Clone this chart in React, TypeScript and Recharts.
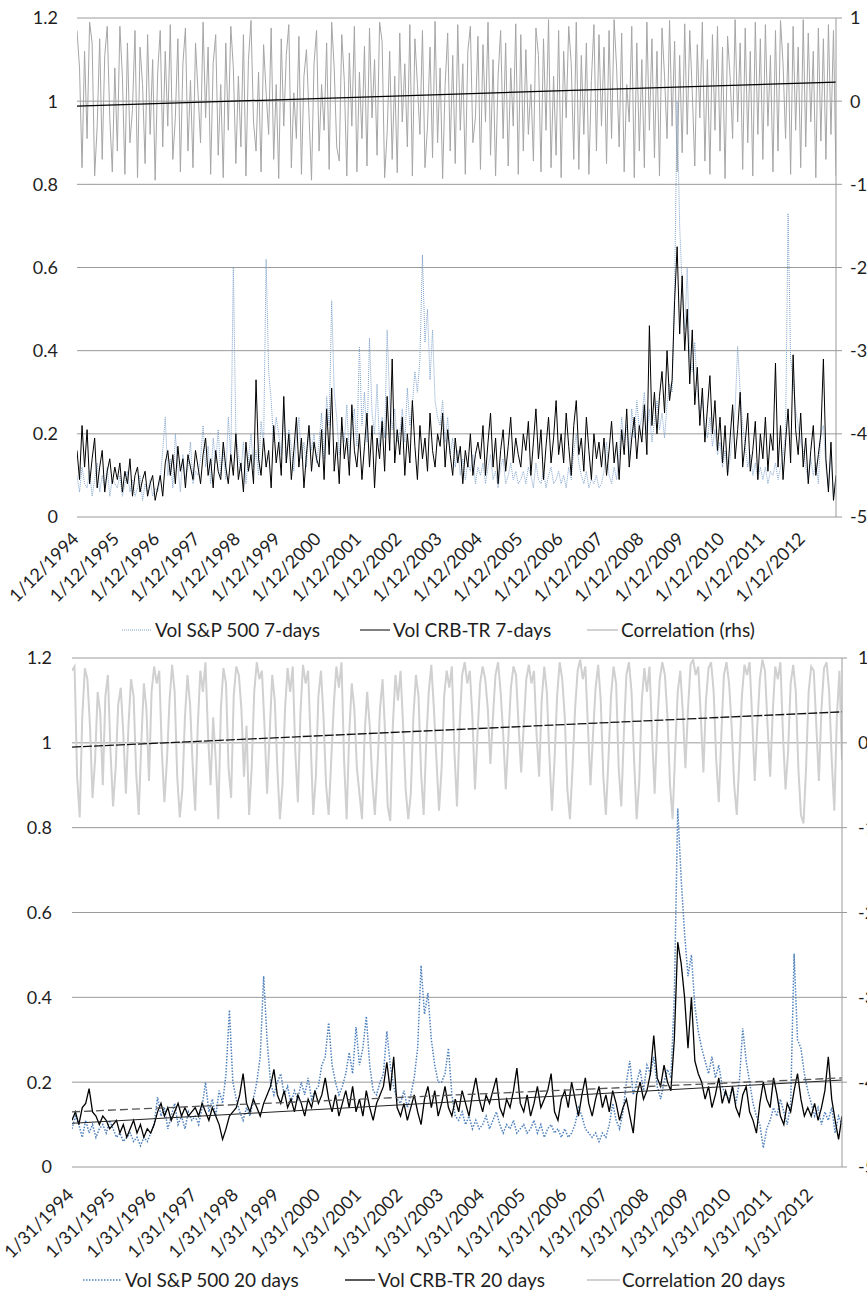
import React from 'react';
import { ComposedChart, Line, XAxis, YAxis, CartesianGrid } from 'recharts';

const FONT = "Lato, 'Open Sans', 'DejaVu Sans', sans-serif";

const tickYears = [1994, 1995, 1996, 1997, 1998, 1999, 2000, 2001, 2002, 2003, 2004, 2005, 2006, 2007, 2008, 2009, 2010, 2011, 2012];
const tickLabels7 = ['1/12/1994', '1/12/1995', '1/12/1996', '1/12/1997', '1/12/1998', '1/12/1999', '1/12/2000', '1/12/2001', '1/12/2002', '1/12/2003', '1/12/2004', '1/12/2005', '1/12/2006', '1/12/2007', '1/12/2008', '1/12/2009', '1/12/2010', '1/12/2011', '1/12/2012'];
const tickLabels20 = ['1/31/1994', '1/31/1995', '1/31/1996', '1/31/1997', '1/31/1998', '1/31/1999', '1/31/2000', '1/31/2001', '1/31/2002', '1/31/2003', '1/31/2004', '1/31/2005', '1/31/2006', '1/31/2007', '1/31/2008', '1/31/2009', '1/31/2010', '1/31/2011', '1/31/2012'];
const leftTicks = [0, 0.2, 0.4, 0.6, 0.8, 1, 1.2];
const rightTicks = [-5, -4, -3, -2, -1, 0, 1];

const legend7 = ['Vol S&P 500 7-days', 'Vol CRB-TR 7-days', 'Correlation (rhs)'];
const legend20 = ['Vol S&P 500 20 days', 'Vol CRB-TR 20 days', 'Correlation 20 days'];

// ---- 7-day series (16 samples per year from Jan 1994) ----
const volSP7 = [
  0.10, 0.06, 0.12, 0.08, 0.07, 0.11, 0.05, 0.09, 0.13, 0.06, 0.10, 0.07, 0.12, 0.05, 0.09, 0.08,
  0.07, 0.10, 0.05, 0.08, 0.11, 0.06, 0.09, 0.05, 0.07, 0.10, 0.04, 0.08, 0.06, 0.09, 0.05, 0.07,
  0.06, 0.09, 0.16, 0.24, 0.10, 0.14, 0.07, 0.20, 0.12, 0.06, 0.15, 0.09, 0.12, 0.18, 0.08, 0.11,
  0.10, 0.14, 0.22, 0.12, 0.17, 0.08, 0.19, 0.13, 0.21, 0.10, 0.16, 0.09, 0.24, 0.14, 0.60, 0.20,
  0.15, 0.11, 0.18, 0.08, 0.14, 0.20, 0.12, 0.16, 0.10, 0.23, 0.17, 0.62, 0.35, 0.28, 0.18, 0.24,
  0.20, 0.15, 0.26, 0.13, 0.21, 0.17, 0.11, 0.19, 0.24, 0.14, 0.18, 0.12, 0.22, 0.16, 0.20, 0.13,
  0.18, 0.25, 0.14, 0.29, 0.22, 0.52, 0.30, 0.24, 0.15, 0.22, 0.18, 0.27, 0.14, 0.21, 0.26, 0.17,
  0.41, 0.22, 0.30, 0.18, 0.43, 0.25, 0.20, 0.32, 0.17, 0.24, 0.19, 0.45, 0.28, 0.21, 0.26, 0.18,
  0.20, 0.26, 0.18, 0.31, 0.22, 0.27, 0.35, 0.30, 0.38, 0.63, 0.42, 0.50, 0.33, 0.45, 0.28, 0.24,
  0.22, 0.28, 0.18, 0.24, 0.15, 0.19, 0.12, 0.16, 0.10, 0.14, 0.09, 0.13, 0.11, 0.15, 0.08, 0.12,
  0.10, 0.13, 0.08, 0.12, 0.15, 0.09, 0.11, 0.07, 0.12, 0.14, 0.08, 0.10, 0.13, 0.09, 0.11, 0.08,
  0.09, 0.11, 0.08, 0.12, 0.10, 0.07, 0.13, 0.09, 0.08, 0.11, 0.07, 0.10, 0.12, 0.08, 0.09, 0.11,
  0.08, 0.10, 0.07, 0.12, 0.09, 0.16, 0.20, 0.13, 0.10, 0.08, 0.11, 0.07, 0.09, 0.08, 0.10, 0.07,
  0.08, 0.11, 0.18, 0.10, 0.08, 0.12, 0.09, 0.15, 0.24, 0.18, 0.22, 0.14, 0.26, 0.19, 0.28, 0.21,
  0.24, 0.30, 0.20, 0.26, 0.18, 0.23, 0.28, 0.21, 0.25, 0.19, 0.27, 0.32, 0.30, 0.55, 1.00, 0.70,
  0.55, 0.45, 0.60, 0.38, 0.35, 0.42, 0.30, 0.25, 0.28, 0.22, 0.19, 0.24, 0.17, 0.21, 0.15, 0.18,
  0.12, 0.16, 0.10, 0.14, 0.20, 0.26, 0.41, 0.30, 0.22, 0.17, 0.12, 0.15, 0.10, 0.13, 0.09, 0.12,
  0.09, 0.12, 0.08, 0.11, 0.10, 0.13, 0.09, 0.12, 0.15, 0.20, 0.73, 0.38, 0.33, 0.26, 0.22, 0.18,
  0.16, 0.12, 0.09, 0.14, 0.10, 0.13, 0.08, 0.20, 0.22, 0.12, 0.07, 0.15, 0.05, 0.09,
];

const volCRB7 = [
  0.16, 0.09, 0.22, 0.12, 0.21, 0.08, 0.14, 0.19, 0.07, 0.12, 0.16, 0.06, 0.11, 0.14, 0.08, 0.12,
  0.09, 0.13, 0.06, 0.11, 0.08, 0.14, 0.05, 0.10, 0.12, 0.06, 0.09, 0.11, 0.05, 0.08, 0.10, 0.04,
  0.07, 0.10, 0.05, 0.13, 0.16, 0.10, 0.15, 0.08, 0.17, 0.11, 0.14, 0.07, 0.15, 0.12, 0.09, 0.16,
  0.12, 0.08, 0.15, 0.19, 0.10, 0.14, 0.07, 0.16, 0.11, 0.09, 0.18, 0.12, 0.08, 0.15, 0.10, 0.20,
  0.09, 0.13, 0.06, 0.18, 0.11, 0.15, 0.08, 0.33, 0.14, 0.10, 0.19, 0.12, 0.16, 0.07, 0.22, 0.13,
  0.18, 0.10, 0.29, 0.13, 0.20, 0.09, 0.16, 0.24, 0.12, 0.19, 0.07, 0.15, 0.22, 0.11, 0.18, 0.14,
  0.12, 0.21, 0.09, 0.26, 0.15, 0.31, 0.11, 0.18, 0.08, 0.24, 0.14, 0.19, 0.10, 0.27, 0.16, 0.12,
  0.20, 0.09, 0.17, 0.25, 0.12, 0.22, 0.07, 0.19, 0.14, 0.23, 0.11, 0.29, 0.16, 0.38, 0.13, 0.21,
  0.15, 0.24, 0.10, 0.20, 0.13, 0.28, 0.17, 0.09, 0.22, 0.14, 0.19, 0.11, 0.25, 0.16, 0.12, 0.20,
  0.17, 0.25, 0.12, 0.21, 0.15, 0.10, 0.19, 0.13, 0.17, 0.08, 0.16, 0.12, 0.20, 0.10, 0.15, 0.18,
  0.14, 0.22, 0.10, 0.18, 0.25, 0.12, 0.19, 0.08, 0.16, 0.21, 0.11, 0.17, 0.24, 0.13, 0.19, 0.15,
  0.12, 0.20, 0.16, 0.23, 0.10, 0.18, 0.26, 0.14, 0.21, 0.09, 0.17, 0.24, 0.13, 0.19, 0.28, 0.15,
  0.20, 0.13, 0.25, 0.17, 0.10, 0.22, 0.28, 0.15, 0.19, 0.11, 0.24, 0.16, 0.09, 0.20, 0.14, 0.18,
  0.12, 0.19, 0.10, 0.16, 0.23, 0.13, 0.18, 0.09, 0.21, 0.15, 0.26, 0.12, 0.19, 0.24, 0.14, 0.22,
  0.18, 0.27, 0.15, 0.46, 0.22, 0.30, 0.20, 0.29, 0.35, 0.25, 0.40, 0.28, 0.33, 0.52, 0.65, 0.44,
  0.58, 0.40, 0.50, 0.32, 0.45, 0.27, 0.36, 0.22, 0.31, 0.18, 0.26, 0.34, 0.20, 0.28, 0.16, 0.24,
  0.13, 0.22, 0.10, 0.19, 0.27, 0.14, 0.21, 0.30, 0.12, 0.18, 0.25, 0.11, 0.16, 0.23, 0.09, 0.20,
  0.14, 0.24, 0.11, 0.20, 0.16, 0.37, 0.12, 0.22, 0.09, 0.18, 0.26, 0.13, 0.39, 0.21, 0.15, 0.25,
  0.12, 0.19, 0.08, 0.16, 0.22, 0.10, 0.15, 0.20, 0.38, 0.14, 0.06, 0.18, 0.04, 0.10,
];

const corr7 = [
  0.85, 0.40, -0.80, 0.60, -0.45, 0.95, 0.70, -0.90, -0.30, 0.75, -0.70, 0.55, 0.90, -0.20, -0.85, 0.40,
  -0.60, 0.90, 0.30, -0.88, 0.70, -0.50, -0.10, 0.85, -0.92, 0.65, 0.20, -0.75, 0.80, -0.40, 0.50, -0.95,
  0.35, 0.85, -0.55, 0.60, -0.30, 0.92, -0.70, -0.20, 0.75, -0.85, 0.45, 0.88, -0.60, 0.25, -0.80, 0.70,
  0.10, -0.50, 0.95, -0.20, 0.65, -0.88, 0.45, 0.80, -0.65, 0.20, -0.92, 0.70, -0.35, 0.90, 0.40, -0.75,
  0.30, -0.55, 0.80, -0.90, 0.50, 0.97, -0.25, -0.60, 0.35, -0.85, 0.68, 0.10, -0.40, 0.88, -0.70, 0.20,
  -0.93, 0.75, -0.30, 0.55, 0.92, -0.80, 0.10, -0.45, 0.78, -0.88, 0.30, 0.62, -0.15, -0.95, 0.45, 0.85,
  -0.60, 0.20, -0.35, 0.70, -0.82, 0.95, 0.40, -0.55, -0.72, 0.80, 0.25, -0.90, 0.58, -0.30, 0.90, -0.85,
  0.35, -0.45, 0.66, -0.78, 0.88, -0.20, 0.50, -0.65, 0.95, 0.72, -0.92, -0.38, 0.60, -0.70, 0.30, -0.86,
  0.82, -0.25, 0.45, -0.55, 0.92, -0.90, 0.75, 0.20, -0.40, 0.85, -0.80, -0.30, 0.65, -0.68, 0.96, -0.50,
  0.40, -0.93, 0.20, 0.82, -0.60, 0.55, -0.75, 0.92, -0.35, 0.45, -0.88, 0.60, 0.90, -0.50, -0.20, 0.78,
  -0.82, 0.68, -0.25, 0.95, -0.65, 0.50, -0.90, 0.30, 0.85, -0.45, 0.70, -0.78, 0.40, -0.30, 0.93, -0.88,
  0.80, -0.60, 0.62, -0.40, 0.20, -0.72, 0.88, 0.55, -0.85, 0.75, -0.35, 0.98, -0.80, 0.30, -0.65, 0.85,
  -0.92, 0.60, -0.20, 0.90, 0.45, -0.70, 0.95, -0.82, 0.55, -0.40, 0.70, -0.88, 0.25, 0.92, -0.60, 0.80,
  -0.30, 0.65, -0.75, 0.85, -0.45, 0.98, 0.40, -0.55, 0.82, -0.85, 0.20, -0.25, 0.90, -0.92, 0.70, -0.60,
  0.50, -0.80, 0.95, -0.35, 0.75, -0.68, 0.60, -0.90, 0.88, 0.30, -0.45, 0.97, -0.30, 0.72, -0.85, 0.55,
  -0.62, 0.93, -0.40, 0.85, 0.10, -0.78, 0.68, -0.20, 0.95, -0.72, 0.50, -0.88, 0.80, -0.35, 0.90, -0.60,
  0.65, -0.93, 0.78, 0.30, -0.45, 0.98, -0.25, 0.70, -0.82, 0.88, -0.50, 0.60, -0.90, 0.95, -0.40, 0.75,
  -0.70, 0.92, -0.30, 0.55, -0.85, 0.85, -0.60, 0.97, 0.45, -0.45, 0.70, -0.88, 0.90, -0.35, 0.65, -0.80,
  0.98, -0.55, 0.82, -0.25, 0.60, -0.92, 0.88, -0.48, 0.75, -0.70, 0.92, -0.40, 0.85, -0.90,
];
const corr7Trend = [-0.06, 0.23];

// ---- 20-day series: vols 12 per year, correlation 16 per year ----
const volSP20 = [
  0.09, 0.12, 0.10, 0.07, 0.11, 0.08, 0.10, 0.07, 0.09, 0.10, 0.08, 0.11,
  0.09, 0.07, 0.08, 0.06, 0.07, 0.08, 0.06, 0.07, 0.05, 0.07, 0.06, 0.08,
  0.10, 0.165, 0.12, 0.14, 0.09, 0.12, 0.15, 0.10, 0.12, 0.09, 0.13, 0.11,
  0.12, 0.10, 0.14, 0.20, 0.13, 0.16, 0.12, 0.18, 0.15, 0.22, 0.37, 0.20,
  0.16, 0.13, 0.11, 0.14, 0.12, 0.16, 0.20, 0.26, 0.45, 0.30, 0.20, 0.17,
  0.20, 0.22, 0.17, 0.19, 0.15, 0.18, 0.16, 0.20, 0.17, 0.21, 0.16, 0.18,
  0.19, 0.24, 0.26, 0.34, 0.24, 0.20, 0.17, 0.19, 0.22, 0.27, 0.22, 0.33,
  0.24, 0.28, 0.355, 0.24, 0.18, 0.17, 0.20, 0.22, 0.32, 0.24, 0.19, 0.16,
  0.15, 0.18, 0.14, 0.17, 0.21, 0.28, 0.475, 0.36, 0.41, 0.30, 0.24, 0.20,
  0.20, 0.22, 0.28, 0.17, 0.12, 0.11, 0.13, 0.10, 0.12, 0.09, 0.11, 0.09,
  0.10, 0.12, 0.09, 0.11, 0.13, 0.10, 0.08, 0.10, 0.09, 0.11, 0.08, 0.09,
  0.10, 0.08, 0.09, 0.11, 0.08, 0.10, 0.07, 0.09, 0.10, 0.08, 0.09, 0.07,
  0.09, 0.07, 0.08, 0.10, 0.14, 0.12, 0.09, 0.08, 0.07, 0.08, 0.06, 0.08,
  0.07, 0.10, 0.15, 0.11, 0.09, 0.13, 0.20, 0.25, 0.17, 0.20, 0.23, 0.18,
  0.24, 0.22, 0.26, 0.19, 0.16, 0.20, 0.23, 0.21, 0.40, 0.845, 0.68, 0.55,
  0.45, 0.50, 0.38, 0.32, 0.28, 0.25, 0.22, 0.26, 0.21, 0.24, 0.19, 0.17,
  0.16, 0.19, 0.15, 0.20, 0.327, 0.25, 0.20, 0.15, 0.12, 0.10, 0.045, 0.09,
  0.11, 0.14, 0.12, 0.16, 0.13, 0.10, 0.15, 0.503, 0.30, 0.28, 0.22, 0.18,
  0.15, 0.12, 0.14, 0.10, 0.13, 0.11, 0.14, 0.08, 0.12, 0.10,
];

const volCRB20 = [
  0.11, 0.13, 0.10, 0.14, 0.15, 0.185, 0.13, 0.12, 0.10, 0.12, 0.11, 0.09,
  0.10, 0.11, 0.08, 0.10, 0.07, 0.09, 0.11, 0.08, 0.10, 0.07, 0.09, 0.08,
  0.10, 0.13, 0.15, 0.12, 0.14, 0.11, 0.13, 0.15, 0.12, 0.14, 0.12, 0.13,
  0.14, 0.12, 0.15, 0.13, 0.11, 0.14, 0.12, 0.10, 0.065, 0.09, 0.12, 0.13,
  0.14, 0.17, 0.22, 0.15, 0.13, 0.16, 0.14, 0.12, 0.15, 0.17, 0.19, 0.23,
  0.17, 0.15, 0.18, 0.14, 0.16, 0.13, 0.17, 0.15, 0.12, 0.16, 0.14, 0.18,
  0.15, 0.17, 0.21, 0.16, 0.13, 0.17, 0.12, 0.15, 0.18, 0.14, 0.19, 0.13,
  0.16, 0.12, 0.18, 0.14, 0.11, 0.15, 0.17, 0.19, 0.247, 0.18, 0.26, 0.14,
  0.12, 0.15, 0.11, 0.14, 0.17, 0.13, 0.10, 0.16, 0.19, 0.14, 0.18, 0.12,
  0.15, 0.19, 0.14, 0.12, 0.16, 0.13, 0.18, 0.15, 0.12, 0.17, 0.21, 0.16,
  0.13, 0.17, 0.15, 0.18, 0.21, 0.14, 0.12, 0.16, 0.14, 0.18, 0.233, 0.15,
  0.13, 0.17, 0.12, 0.15, 0.19, 0.14, 0.16, 0.18, 0.22, 0.13, 0.11, 0.16,
  0.18, 0.14, 0.20, 0.16, 0.12, 0.17, 0.21, 0.15, 0.12, 0.16, 0.19, 0.14,
  0.17, 0.13, 0.18, 0.15, 0.11, 0.14, 0.16, 0.12, 0.08, 0.17, 0.20, 0.16,
  0.18, 0.22, 0.31, 0.21, 0.19, 0.24, 0.20, 0.18, 0.30, 0.53, 0.48, 0.40,
  0.28, 0.40, 0.25, 0.22, 0.20, 0.16, 0.19, 0.14, 0.17, 0.21, 0.15, 0.18,
  0.15, 0.19, 0.14, 0.12, 0.17, 0.19, 0.13, 0.11, 0.08, 0.15, 0.20, 0.16,
  0.14, 0.21, 0.17, 0.12, 0.10, 0.15, 0.13, 0.18, 0.22, 0.16, 0.12, 0.14,
  0.12, 0.15, 0.11, 0.14, 0.18, 0.26, 0.16, 0.11, 0.065, 0.12,
];

const corr20 = [
  0.85, 0.90, -0.40, -0.88, 0.30, 0.88, 0.75, 0.20, -0.65, -0.20, 0.60, 0.35, -0.50, 0.55, 0.80, -0.10,
  -0.75, -0.30, 0.45, 0.65, 0.10, -0.60, 0.20, 0.75, 0.55, -0.35, -0.85, 0.00, 0.70, 0.40, -0.45, 0.60,
  0.90, 0.70, 0.85, -0.10, -0.70, -0.20, 0.50, 0.92, 0.60, -0.40, -0.88, -0.55, 0.30, 0.80, 0.45, -0.25,
  -0.80, 0.20, 0.85, 0.60, 0.95, 0.10, -0.50, 0.30, -0.20, -0.90, 0.40, 0.88, 0.70, -0.30, -0.65, 0.55,
  0.90, 0.80, 0.40, -0.40, 0.20, -0.85, -0.30, 0.60, 0.95, 0.75, 0.85, 0.20, -0.60, 0.10, 0.80, 0.50,
  -0.30, -0.90, -0.50, 0.40, 0.88, 0.60, 0.90, -0.10, -0.70, 0.35, 0.92, 0.70, 0.85, 0.00, -0.85, -0.40,
  0.55, 0.85, 0.30, -0.50, -0.85, -0.20, 0.45, 0.90, 0.65, 0.95, -0.20, -0.90, 0.10, 0.70, 0.40, -0.30,
  -0.60, -0.90, 0.10, 0.60, 0.20, -0.45, -0.85, -0.30, 0.40, 0.75, 0.10, -0.75, -0.92, 0.20, 0.80, 0.50,
  0.85, 0.20, -0.55, -0.90, -0.60, 0.30, 0.80, 0.55, -0.35, -0.85, 0.00, 0.60, 0.92, 0.40, -0.20, -0.80,
  -0.30, 0.55, 0.85, 0.65, 0.90, -0.10, -0.75, 0.20, 0.80, 0.95, 0.70, 0.85, 0.30, -0.55, 0.10, 0.70,
  0.90, 0.75, 0.40, -0.25, 0.30, 0.80, 0.95, 0.60, 0.10, -0.55, 0.05, 0.65, 0.90, 0.80, 0.20, -0.35,
  0.20, 0.75, 0.92, 0.70, 0.85, 0.10, -0.40, 0.50, 0.90, 0.60, -0.15, -0.80, -0.20, 0.55, 0.95, 0.75,
  0.30, -0.55, -0.90, -0.30, 0.40, 0.85, 0.98, 0.75, 0.90, 0.20, -0.50, 0.10, 0.65, 0.92, 0.50, -0.40,
  -0.85, -0.20, 0.55, 0.90, 0.70, -0.30, -0.75, 0.10, 0.80, 0.95, 0.60, -0.20, -0.90, -0.45, 0.50, 0.88,
  0.60, 0.90, 0.10, -0.60, 0.20, 0.75, 0.95, 0.80, 0.30, -0.50, -0.90, -0.10, 0.60, 0.85, 0.35, -0.30,
  0.40, 0.92, 0.98, 0.80, 0.90, 0.30, -0.35, 0.50, 0.88, 0.95, 0.60, -0.20, -0.70, 0.10, 0.80, 0.95,
  0.70, 0.20, -0.50, -0.85, -0.20, 0.55, 0.92, 0.80, 0.95, 0.30, -0.45, 0.20, 0.75, 0.98, 0.85, 0.20,
  -0.40, 0.35, 0.90, 0.75, 0.95, 0.10, -0.55, -0.10, 0.70, 0.92, 0.60, -0.30, -0.85, -0.95, -0.30, 0.60,
  0.90, 0.85, 0.20, -0.45, 0.40, 0.88, 0.95, 0.60, -0.20, -0.80, 0.30, 0.85, -0.20,
];
const volSP20Trend = [0.13, 0.21];
const volCRB20Trend = [0.103, 0.205];
const corr20Trend = [-0.05, 0.365];

const START = 1994;
const toRows = (arr: number[], perYear: number) => arr.map((v, i) => ({ t: START + i / perYear, v }));
const end7 = START + (volSP7.length - 1) / 16;
const end20 = START + (volSP20.length - 1) / 12;
const trendRows = (pair: number[], end: number) => [{ t: START, v: pair[0] }, { t: end, v: pair[1] }];

const sp7Rows = toRows(volSP7, 16);
const crb7Rows = toRows(volCRB7, 16);
const corr7Rows = toRows(corr7, 16);
const sp20Rows = toRows(volSP20, 12);
const crb20Rows = toRows(volCRB20, 12);
const corr20Rows = toRows(corr20, 16);

const fmtNum = (v: number) => String(v);

const TICK_FS = 18;
const LEGEND_FS = 19;
const GRID = '#9a9a9a';
const TXT = '#1f1f1f';

const makeXTick = (labels: string[], dx: number, dy: number) => (props: any) => {
  const { x, y, payload } = props;
  const idx = tickYears.indexOf(payload.value);
  const ax = x + dx;
  const ay = y + dy;
  return (
    <text x={ax} y={ay} textAnchor="end" fill={TXT} fontSize={TICK_FS} fontFamily={FONT}
      transform={`rotate(-45 ${ax} ${ay})`}>{labels[idx]}</text>
  );
};

function LegendRow({ labels, items, top }: { labels: string[]; items: any[]; top: number }) {
  return (
    <>
      {items.map((it, i) => (
        <React.Fragment key={i}>
          <svg style={{ position: 'absolute', left: it.x0, top: top - 5, overflow: 'visible' }} width={it.x1 - it.x0} height={10}>
            <line x1={0} y1={5} x2={it.x1 - it.x0} y2={5} stroke={it.color} strokeWidth={it.w} strokeDasharray={it.dash} />
          </svg>
          <div style={{ position: 'absolute', left: it.tx, top: top - 12, fontFamily: FONT, fontSize: LEGEND_FS, lineHeight: '24px', color: TXT, whiteSpace: 'nowrap' }}>{labels[i]}</div>
        </React.Fragment>
      ))}
    </>
  );
}

const legendItems7 = [
  { x0: 122, x1: 151, tx: 155, color: '#7fa3cc', dash: '1 1', w: 1 },
  { x0: 360, x1: 390, tx: 393, color: '#000', dash: undefined, w: 1 },
  { x0: 587, x1: 618, tx: 621, color: '#a6a6a6', dash: undefined, w: 1 },
];
const legendItems20 = [
  { x0: 83, x1: 122, tx: 125, color: '#4f81bd', dash: '1.5 1.5', w: 1.5 },
  { x0: 345, x1: 375, tx: 378, color: '#000', dash: undefined, w: 1.3 },
  { x0: 587, x1: 620, tx: 622, color: '#d0d0d0', dash: undefined, w: 2 },
];

const tickStyle = { fill: TXT, fontSize: TICK_FS, fontFamily: FONT };

export default function App() {
  return (
    <div style={{ position: 'absolute', left: 0, top: 0, width: 867, height: 1292, background: '#fff', overflow: 'hidden', fontFamily: FONT }}>
      <div style={{ position: 'absolute', left: 0, top: 0 }}>
        <ComposedChart width={867} height={620} margin={{ top: 18, right: 6, left: 17, bottom: 3 }}>
          <CartesianGrid yAxisId="left" vertical={false} stroke={GRID} />
          <XAxis dataKey="t" type="number" domain={[START, end7]} ticks={tickYears} interval={0}
            allowDataOverflow axisLine={false} tickLine={false} tickSize={0} tickMargin={0} height={100}
            tick={makeXTick(tickLabels7, 3, 23)} />
          <YAxis yAxisId="left" orientation="left" domain={[0, 1.2]} ticks={leftTicks} interval={0}
            width={60} axisLine={false} tickLine={false} tickSize={0} tickMargin={19} tickFormatter={fmtNum}
            tick={tickStyle} />
          <YAxis yAxisId="right" orientation="right" domain={[-5, 1]} ticks={rightTicks} interval={0}
            width={25} axisLine={{ stroke: GRID }} tickLine={{ stroke: GRID }} tickSize={6} tickMargin={8} tickFormatter={fmtNum}
            tick={tickStyle} />
          <Line yAxisId="right" data={corr7Rows} dataKey="v" stroke="#a6a6a6" strokeWidth={1} dot={false} activeDot={false} isAnimationActive={false} />
          <Line yAxisId="right" data={trendRows(corr7Trend, end7)} dataKey="v" stroke="#000" strokeWidth={1.2} dot={false} activeDot={false} isAnimationActive={false} />
          <Line yAxisId="left" data={sp7Rows} dataKey="v" stroke="#7fa3cc" strokeWidth={1} strokeDasharray="1 1" dot={false} activeDot={false} isAnimationActive={false} />
          <Line yAxisId="left" data={crb7Rows} dataKey="v" stroke="#000" strokeWidth={1} dot={false} activeDot={false} isAnimationActive={false} />
        </ComposedChart>
      </div>
      <LegendRow labels={legend7} items={legendItems7} top={630} />

      <div style={{ position: 'absolute', left: 0, top: 640 }}>
        <ComposedChart width={867} height={645} margin={{ top: 18, right: 5, left: 17, bottom: 3 }}>
          <CartesianGrid yAxisId="left" vertical={false} stroke={GRID} />
          <XAxis dataKey="t" type="number" domain={[START, end20]} ticks={tickYears} interval={0}
            allowDataOverflow axisLine={false} tickLine={false} tickSize={0} tickMargin={0} height={115}
            tick={makeXTick(tickLabels20, 3, 29)} />
          <YAxis yAxisId="left" orientation="left" domain={[0, 1.2]} ticks={leftTicks} interval={0}
            width={55} axisLine={false} tickLine={false} tickSize={0} tickMargin={20} tickFormatter={fmtNum}
            tick={tickStyle} />
          <YAxis yAxisId="right" orientation="right" domain={[-5, 1]} ticks={rightTicks} interval={0}
            width={20} axisLine={{ stroke: GRID }} tickLine={{ stroke: GRID }} tickSize={5} tickMargin={11} tickFormatter={fmtNum}
            tick={tickStyle} />
          <Line yAxisId="right" data={corr20Rows} dataKey="v" stroke="#d0d0d0" strokeWidth={2} dot={false} activeDot={false} isAnimationActive={false} />
          <Line yAxisId="right" data={trendRows(corr20Trend, end20)} dataKey="v" stroke="#111" strokeWidth={1.3} strokeDasharray="9 2" dot={false} activeDot={false} isAnimationActive={false} />
          <Line yAxisId="left" data={sp20Rows} dataKey="v" stroke="#4f81bd" strokeWidth={1.5} strokeDasharray="1.5 1.5" dot={false} activeDot={false} isAnimationActive={false} />
          <Line yAxisId="left" data={crb20Rows} dataKey="v" stroke="#000" strokeWidth={1.3} dot={false} activeDot={false} isAnimationActive={false} />
          <Line yAxisId="left" data={trendRows(volSP20Trend, end20)} dataKey="v" stroke="#555" strokeWidth={1.3} strokeDasharray="8 4" dot={false} activeDot={false} isAnimationActive={false} />
          <Line yAxisId="left" data={trendRows(volCRB20Trend, end20)} dataKey="v" stroke="#222" strokeWidth={1} dot={false} activeDot={false} isAnimationActive={false} />
        </ComposedChart>
      </div>
      <LegendRow labels={legend20} items={legendItems20} top={1280} />
    </div>
  );
}
